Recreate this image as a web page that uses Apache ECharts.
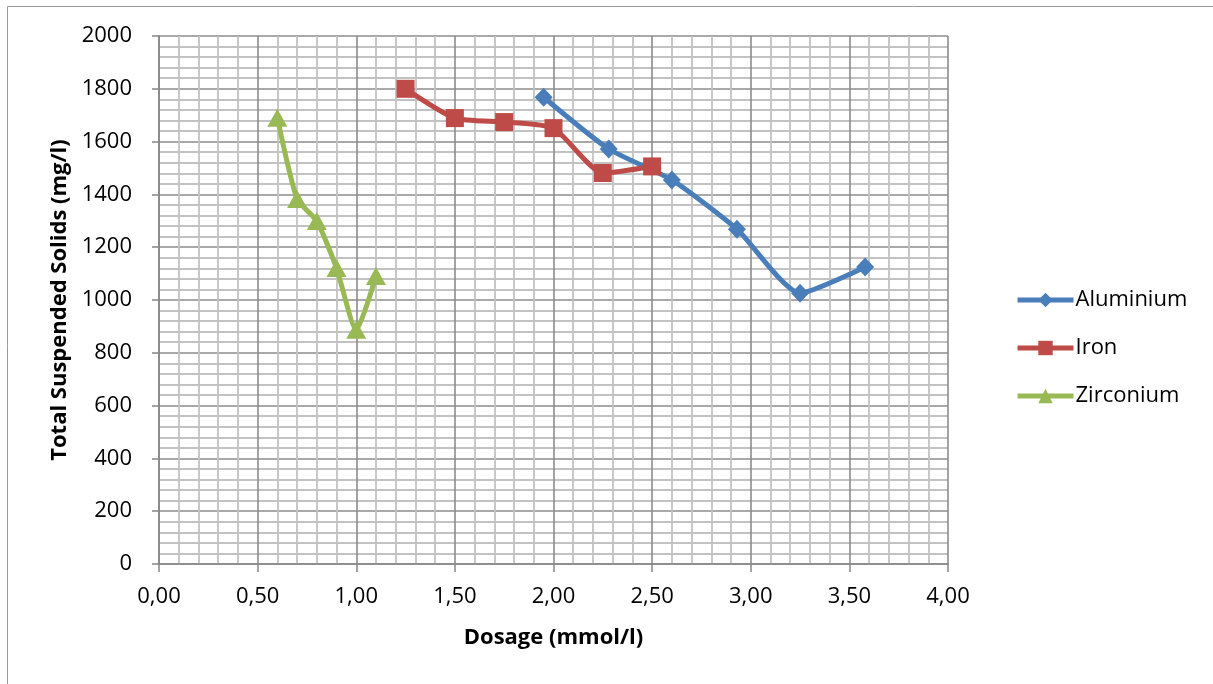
<!DOCTYPE html>
<html>
<head>
<meta charset="utf-8">
<script src="https://cdn.jsdelivr.net/npm/echarts@6/dist/echarts.min.js"></script>
<style>
  html, body { margin: 0; padding: 0; background: #fff; }
  #chart { width: 1213px; height: 684px; }
</style>
</head>
<body>
<div id="chart"></div>
<script>
var seriesNames = ['Aluminium', 'Iron', 'Zirconium'];
var aluminiumX = [1.95, 2.28, 2.60, 2.93, 3.25, 3.58];
var aluminiumY = [1768, 1572, 1455, 1268, 1026, 1125];
var ironX = [1.25, 1.50, 1.75, 2.00, 2.25, 2.50];
var ironY = [1800, 1689, 1674, 1651, 1481, 1506];
var zirconiumX = [0.60, 0.70, 0.80, 0.90, 1.00, 1.10];
var zirconiumY = [1690, 1383, 1299, 1121, 887, 1091];
var xTicks = [0, 0.5, 1, 1.5, 2, 2.5, 3, 3.5, 4];
var yTicks = [0, 200, 400, 600, 800, 1000, 1200, 1400, 1600, 1800, 2000];

var colors = ['#4a7ebb', '#be4b48', '#98b954'];
var symbols = ['diamond', 'rect', 'triangle'];
var symbolSizes = [[18, 19], 18, [20, 18]];

function pairs(xs, ys) {
  var out = [];
  for (var i = 0; i < xs.length; i++) out.push([xs[i], ys[i]]);
  return out;
}
var allData = [pairs(aluminiumX, aluminiumY), pairs(ironX, ironY), pairs(zirconiumX, zirconiumY)];

var font = 'Open Sans';
var chart = echarts.init(document.getElementById('chart'));
var option = {
  animation: false,
  color: colors,
  graphic: [{
    type: 'rect',
    shape: { x: 7.5, y: 6.5, width: 1220, height: 700 },
    style: { fill: 'none', stroke: '#9a9a9a', lineWidth: 1 },
    silent: true
  }],
  grid: { left: 159, right: 265, top: 36, bottom: 120 },
  legend: {
    orient: 'vertical',
    left: 1010,
    top: 283,
    itemWidth: 56,
    itemHeight: 18,
    itemGap: 24,
    lineStyle: { width: 5 },
    textStyle: { fontFamily: font, fontSize: 22, lineHeight: 24, color: '#000', padding: [0, 0, 0, -3] },
    data: seriesNames
  },
  xAxis: {
    type: 'value',
    min: xTicks[0],
    max: xTicks[xTicks.length - 1],
    interval: 0.5,
    name: 'Dosage (mmol/l)',
    nameLocation: 'middle',
    nameGap: 63,
    nameTextStyle: { fontFamily: font, fontSize: 22, fontWeight: 'bold', color: '#000' },
    axisLine: { show: true, lineStyle: { color: '#868686', width: 1.5 } },
    axisTick: { show: true, length: 8, lineStyle: { color: '#868686', width: 1.5 } },
    axisLabel: {
      margin: 22,
      fontFamily: font, fontSize: 22, color: '#000',
      formatter: function (v) { return v.toFixed(2).replace('.', ','); }
    },
    splitLine: { show: true, lineStyle: { color: '#8c8c8c', width: 1.6 } },
    minorTick: { show: false, splitNumber: 5 },
    minorSplitLine: { show: true, lineStyle: { color: '#c2c2c2', width: 1.8 } }
  },
  yAxis: {
    type: 'value',
    min: yTicks[0],
    max: yTicks[yTicks.length - 1],
    interval: 200,
    name: 'Total Suspended Solids (mg/l)',
    nameLocation: 'middle',
    nameGap: 85,
    nameTextStyle: { fontFamily: font, fontSize: 22, fontWeight: 'bold', color: '#000' },
    axisLine: { show: true, lineStyle: { color: '#868686', width: 1.5 } },
    axisTick: { show: true, length: 7, lineStyle: { color: '#868686', width: 1.5 } },
    axisLabel: {
      margin: 27, fontFamily: font, fontSize: 22, color: '#000',
      formatter: function (v) { return String(v); }
    },
    splitLine: { show: true, lineStyle: { color: '#8c8c8c', width: 1.6 } },
    minorTick: { show: false, splitNumber: 5 },
    minorSplitLine: { show: true, lineStyle: { color: '#c2c2c2', width: 1.8 } }
  },
  series: seriesNames.map(function (name, i) {
    return {
      name: name,
      type: 'line',
      data: allData[i],
      smooth: 0.2,
      symbol: symbols[i],
      symbolSize: symbolSizes[i],
      lineStyle: { width: 5, color: colors[i] },
      itemStyle: { color: colors[i] }
    };
  })
};
chart.setOption(option);
</script>
</body>
</html>
